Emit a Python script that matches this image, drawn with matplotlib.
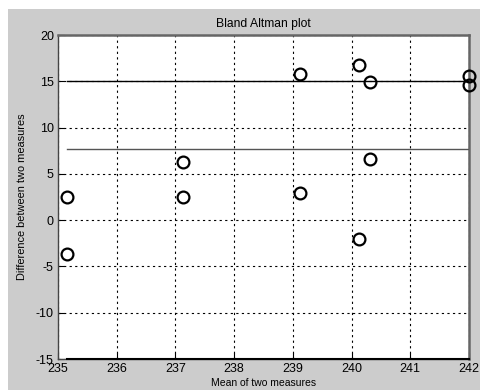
import matplotlib
matplotlib.use("Agg")
import matplotlib.pyplot as plt
from matplotlib.patches import Rectangle

# Bland-Altman data
mean_vals = [235.16, 235.16, 237.13, 237.13, 239.12, 239.12,
             240.12, 240.12, 240.31, 240.31, 242.0, 242.0]
diff_vals = [2.5, -3.63, 6.27, 2.49, 15.8, 2.9,
             16.75, -2.07, 14.88, 6.6, 15.56, 14.56]
mean_diff = 7.68
upper_loa = 15.0
lower_loa = -15.0
x_ticks = [235, 236, 237, 238, 239, 240, 241, 242]
y_ticks = [-15, -10, -5, 0, 5, 10, 15, 20]

plt.rcParams["font.family"] = ["Liberation Sans", "DejaVu Sans"]
plt.rcParams["axes.unicode_minus"] = False

fig = plt.figure(figsize=(4.81, 3.9), dpi=100, facecolor="white")
# matlab-style grey figure panel, with a thin white strip top/left
fig.patches.append(Rectangle((8 / 481, 0), 1, 1 - 9 / 390, transform=fig.transFigure,
                             facecolor="#cccccc", edgecolor="none", zorder=-10))

ax = fig.add_axes([58 / 481, 31 / 390, 411 / 481, 324 / 390])
ax.set_facecolor("white")

ax.plot(mean_vals, diff_vals, "o", markersize=8.5, markerfacecolor="none",
        markeredgecolor="black", markeredgewidth=1.6, clip_on=False, zorder=4)

x0, x1 = min(mean_vals), max(mean_vals)
ax.plot([x0, x1], [upper_loa, upper_loa], color="black", linewidth=1.0, zorder=3)
ax.plot([x0, x1], [mean_diff, mean_diff], color="#555555", linewidth=1.0, zorder=3)
ax.plot([x0, x1], [lower_loa, lower_loa], color="black", linewidth=1.5,
        clip_on=False, zorder=3)

ax.set_xlim(235, 242)
ax.set_ylim(-15, 20)
ax.set_xticks(x_ticks)
ax.set_yticks(y_ticks)
ax.tick_params(direction="in", length=4, labelsize=9, colors="black", pad=3)
ax.grid(True, color="black", linestyle=(0, (2, 3)), linewidth=0.8)
for side, sp in ax.spines.items():
    sp.set_color("#444444")
    sp.set_linewidth(1.0)
ax.spines["right"].set_linewidth(1.8)
ax.spines["top"].set_linewidth(1.8)
ax.spines["right"].set_color("#666666")
ax.spines["top"].set_color("#666666")

ax.set_title("Bland Altman plot", fontsize=8.7, pad=6)
ax.set_xlabel("Mean of two measures", fontsize=7.5, labelpad=2)
ax.set_ylabel("Difference between two measures", fontsize=7.9, labelpad=6)

fig.savefig("out.png", dpi=100)
